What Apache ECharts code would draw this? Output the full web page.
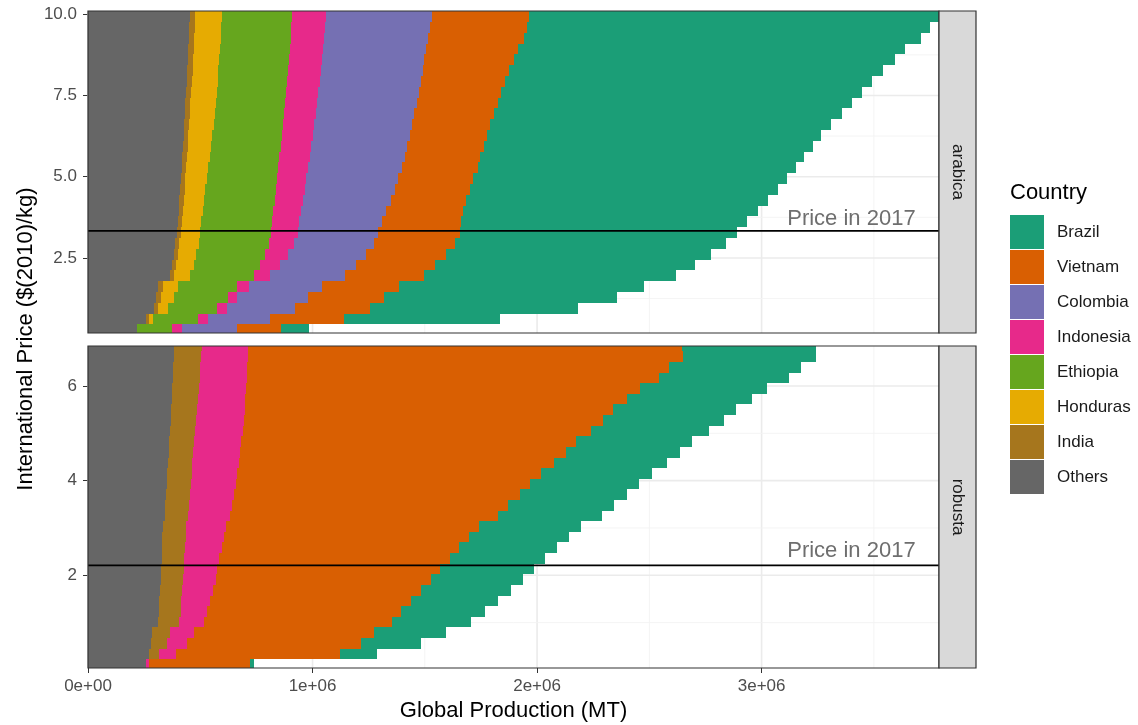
<!DOCTYPE html>
<html><head><meta charset="utf-8">
<script src="https://cdn.jsdelivr.net/npm/echarts@6/dist/echarts.min.js"></script>
<style>html,body{margin:0;padding:0;background:#fff}#c{width:1138px;height:725px}</style>
</head><body><div id="c"></div>
<script>
// ---------------- DATA ----------------
// legend order
const countries = ['Brazil','Vietnam','Colombia','Indonesia','Ethiopia','Honduras','India','Others'];
// price levels ($(2010)/kg), bottom to top
const arabicaPrice = [0.29,0.622,0.955,1.287,1.62,1.952,2.284,2.617,2.949,3.282,3.614,3.946,4.279,4.611,4.944,5.276,5.608,5.941,6.273,6.606,6.938,7.27,7.603,7.935,8.268,8.6,8.932,9.265,9.597,9.93];
const robustaPrice = [0.114,0.338,0.563,0.787,1.011,1.236,1.46,1.684,1.908,2.133,2.357,2.581,2.806,3.03,3.254,3.479,3.703,3.927,4.151,4.376,4.6,4.824,5.049,5.273,5.497,5.722,5.946,6.17,6.394,6.619,6.843];
// production per price level (thousand MT)
const arOthers    = [219,259,296,304,313,364,374,381,389,397,400,404,407,410,413,417,420,423,426,429,432,434,437,440,442,445,447,449,451,453];
const arIndia     = [0,12,15,21,21,21,19,18,18,18,18,19,19,20,20,20,20,21,21,21,22,22,23,23,24,24,24,25,25,25];
const arHonduras  = [0,20,45,56,65,71,80,83,86,83,86,89,90,93,96,99,102,105,106,109,110,112,113,114,114,115,116,117,118,119];
const arEthiopia  = [156,198,220,242,264,282,294,308,312,315,315,314,315,314,313,312,310,310,309,309,309,309,309,309,309,310,311,312,312,313];
const arIndonesia = [45,45,41,40,52,71,86,102,111,121,121,122,126,129,130,134,135,136,138,140,142,144,144,146,147,147,148,148,150,150];
const arColombia  = [242,276,304,319,327,334,341,344,356,358,369,380,392,401,409,416,423,427,434,436,438,443,447,449,454,456,458,463,466,472];
const arVietnam   = [196,329,337,338,345,352,352,357,364,366,352,340,334,333,335,337,336,340,341,347,353,360,366,376,386,401,410,426,433,434];
const arBrazil    = [126,697,924,1034,1090,1125,1157,1182,1206,1231,1274,1316,1345,1372,1399,1417,1442,1466,1491,1517,1550,1577,1609,1636,1664,1695,1723,1768,1795,1825];

const roOthers    = [259,270,281,285,310,315,318,321,324,327,328,330,331,332,342,344,348,350,353,356,359,362,365,368,370,372,375,377,379,382,384];
const roIndia     = [0,48,71,81,97,97,98,98,100,99,101,102,104,105,102,104,105,107,108,109,110,111,113,114,116,117,119,120,121,122,123];
const roIndonesia = [12,74,89,104,111,119,129,138,144,149,156,165,172,178,189,192,197,200,204,206,209,210,211,212,212,212,211,211,210,209,207];
const roVietnam   = [449,731,777,803,838,865,894,927,959,994,1028,1057,1092,1127,1191,1230,1272,1311,1352,1405,1449,1489,1549,1598,1641,1700,1753,1836,1878,1935,1933];
const roBrazil    = [18,163,264,322,350,374,388,401,410,419,424,436,444,453,463,474,478,486,495,502,510,519,528,541,549,556,568,577,586,593,593];

const priceIn2017 = [3.33, 2.21];          // arabica, robusta
const priceLabelY = [3.70, 2.51];
const priceLabelX = 3.4e6;
const xTicks = [0, 1e6, 2e6, 3e6];
const xMinor = [5e5, 1.5e6, 2.5e6, 3.5e6];
const arabicaTicks = [2.5, 5, 7.5, 10];
const arabicaMinor = [1.25, 3.75, 6.25, 8.75];
const robustaTicks = [2, 4, 6];
const robustaMinor = [1, 3, 5];
const panels = ['arabica', 'robusta'];

// ---------------- STYLE ----------------
const colors = {Brazil:'#1B9E77',Vietnam:'#D95F02',Colombia:'#7570B3',Indonesia:'#E7298A',
  Ethiopia:'#66A61E',Honduras:'#E6AB02',India:'#A6761D',Others:'#666666'};
const FONT = '"Liberation Sans", Arial, Helvetica, sans-serif';
const G = [{left:88, top:11, width:851, height:322},{left:88, top:346, width:851, height:322}];
const XMAX = 3.79e6;
const YR = [[0.19, 10.1],[0.042, 6.845]];

const stacks = [
  [['Others',arOthers],['India',arIndia],['Honduras',arHonduras],['Ethiopia',arEthiopia],
   ['Indonesia',arIndonesia],['Colombia',arColombia],['Vietnam',arVietnam],['Brazil',arBrazil]],
  [['Others',roOthers],['India',roIndia],['Indonesia',roIndonesia],['Vietnam',roVietnam],['Brazil',roBrazil]]
];
const priceLists = [arabicaPrice, robustaPrice];

const series = [];

// grid lines (drawn under the bars)
function gridSeries(gi, yMaj, yMin) {
  const data = [];
  xTicks.forEach(v => data.push([v, 0]));
  xMinor.forEach(v => data.push([v, 1]));
  yMaj.forEach(v => data.push([v, 2]));
  yMin.forEach(v => data.push([v, 3]));
  return {
    type:'custom', xAxisIndex:gi, yAxisIndex:gi, z:1, silent:true, data,
    encode:{x:-1, y:-1},
    renderItem(params, api){
      const v = api.value(0), k = api.value(1), cs = params.coordSys;
      const major = (k === 0 || k === 2);
      const style = {stroke: major ? '#EBEBEB' : '#F3F3F3', lineWidth: major ? 1.6 : 0.9};
      if (k < 2) {
        const x = api.coord([v, YR[gi][0]])[0];
        return {type:'line', shape:{x1:x, y1:cs.y, x2:x, y2:cs.y+cs.height}, style};
      }
      const y = api.coord([0, v])[1];
      return {type:'line', shape:{x1:cs.x, y1:y, x2:cs.x+cs.width, y2:y}, style};
    }
  };
}
series.push(gridSeries(0, arabicaTicks, arabicaMinor));
series.push(gridSeries(1, robustaTicks, robustaMinor));

// stacked supply bars: each level spans from the midpoint with the level below to the midpoint with the level above
stacks.forEach((stack, gi) => {
  const prices = priceLists[gi];
  const n = prices.length;
  const lo = prices.map((p, i) => i === 0 ? p - (prices[1] - prices[0]) / 2 : (prices[i-1] + p) / 2);
  const hi = prices.map((p, i) => i === n - 1 ? p + (p - prices[n-2]) / 2 : (p + prices[i+1]) / 2);
  const cum = prices.map(() => 0);
  stack.forEach(([name, arr]) => {
    const data = prices.map((p, i) => {
      const s = cum[i];
      const e = s + arr[i] * 1000;
      cum[i] = e;
      return [s, e, p, lo[i], hi[i]];
    });
    const col = colors[name];
    series.push({
      type:'custom', name, xAxisIndex:gi, yAxisIndex:gi, z:2,
      itemStyle:{color:col}, data,
      encode:{x:[0,1], y:2},
      renderItem(params, api){
        const s = api.value(0), e = api.value(1);
        if (e <= s) return null;
        const cs = params.coordSys;
        const a = api.coord([s, api.value(4)]);
        const b = api.coord([e, api.value(3)]);
        const x0 = Math.round(a[0]), x1 = Math.round(b[0]);
        const y0 = Math.max(Math.round(a[1]), cs.y);
        const y1 = Math.min(Math.round(b[1]), cs.y + cs.height);
        if (x1 <= x0 || y1 <= y0) return null;
        return {type:'rect', shape:{x:x0, y:y0, width:x1-x0, height:y1-y0}, style:{fill:col}};
      }
    });
  });
});

// price in 2017 line + label
priceIn2017.forEach((pv, gi) => {
  series.push({
    type:'custom', xAxisIndex:gi, yAxisIndex:gi, z:5, silent:true,
    data:[[pv, priceLabelY[gi]]], encode:{x:-1, y:-1},
    renderItem(params, api){
      const cs = params.coordSys;
      const y = api.coord([0, api.value(0)])[1];
      const t = api.coord([priceLabelX, api.value(1)]);
      return {type:'group', children:[
        {type:'line', shape:{x1:cs.x, y1:y, x2:cs.x+cs.width, y2:y}, style:{stroke:'#000', lineWidth:1.8}},
        {type:'text', x:t[0], y:t[1], style:{text:'Price in 2017', fill:'#6e6e6e', font:'22px ' + FONT,
          textAlign:'center', textVerticalAlign:'middle'}}
      ]};
    }
  });
});

const xLabelFmt = v => xTicks.includes(v) ? (v === 0 ? '0e+00' : (v/1e6) + 'e+06') : '';
const axisTickStyle = {show:true, length:5, lineStyle:{color:'#333', width:1}};

const option = {
  animation:false,
  backgroundColor:'#fff',
  grid: G.map(g => Object.assign({containLabel:false, show:false}, g)),
  xAxis: [0,1].map(gi => ({
    type:'value', gridIndex:gi, min:0, max:XMAX, interval:1e6,
    axisLine:{show:false}, splitLine:{show:false},
    axisTick: gi === 1 ? Object.assign({customValues:xTicks}, axisTickStyle) : {show:false},
    axisLabel: gi === 1 ? {show:true, customValues:xTicks, formatter:xLabelFmt, color:'#4D4D4D',
      fontSize:17, fontFamily:FONT, margin:10} : {show:false}
  })),
  yAxis: [0,1].map(gi => {
    const ticks = gi === 0 ? arabicaTicks : robustaTicks;
    const step = ticks[1] - ticks[0];
    return {
      type:'value', gridIndex:gi, min:YR[gi][0], max:YR[gi][1], minInterval:step, maxInterval:step,
      axisLine:{show:false}, splitLine:{show:false},
      axisTick: Object.assign({customValues:ticks}, axisTickStyle),
      axisLabel:{customValues:ticks, color:'#4D4D4D', fontSize:17, fontFamily:FONT, margin:11,
        formatter: v => ticks.includes(v) ? (gi === 0 ? v.toFixed(1) : String(v)) : ''}
    };
  }),
  legend:{
    orient:'vertical', left:1010, top:215, padding:0, itemWidth:34, itemHeight:34, itemGap:1,
    icon:'rect', selectedMode:false,
    data: countries,
    textStyle:{fontSize:17, fontFamily:FONT, color:'#1A1A1A', padding:[0,0,0,8]}
  },
  graphic: [
    ...G.map((g, gi) => ({type:'rect', z:100, silent:true,
      shape:{x:g.left, y:g.top, width:g.width, height:g.height},
      style:{fill:'none', stroke:'#333', lineWidth:1.2}})),
    ...G.map((g, gi) => ({type:'rect', z:100, silent:true,
      shape:{x:g.left + g.width, y:g.top, width:37, height:g.height},
      style:{fill:'#D9D9D9', stroke:'#333', lineWidth:1.2}})),
    ...G.map((g, gi) => ({type:'text', z:101, silent:true,
      x:g.left + g.width + 18.5, y:g.top + g.height/2, rotation:-Math.PI/2,
      style:{text:panels[gi], fill:'#1A1A1A', font:'17px ' + FONT, textAlign:'center', textVerticalAlign:'middle'}})),
    {type:'text', z:101, silent:true, x:26, y:339, rotation:Math.PI/2,
      style:{text:'International Price ($(2010)/kg)', fill:'#000', font:'22px ' + FONT, textAlign:'center', textVerticalAlign:'middle'}},
    {type:'text', z:101, silent:true, x:513.5, y:711,
      style:{text:'Global Production (MT)', fill:'#000', font:'22px ' + FONT, textAlign:'center', textVerticalAlign:'middle'}},
    {type:'text', z:101, silent:true, x:1010, y:193,
      style:{text:'Country', fill:'#000', font:'22px ' + FONT, textAlign:'left', textVerticalAlign:'middle'}}
  ],
  series
};
const chart = echarts.init(document.getElementById('c'), null, {renderer:'canvas'});
chart.setOption(option);
</script></body></html>
